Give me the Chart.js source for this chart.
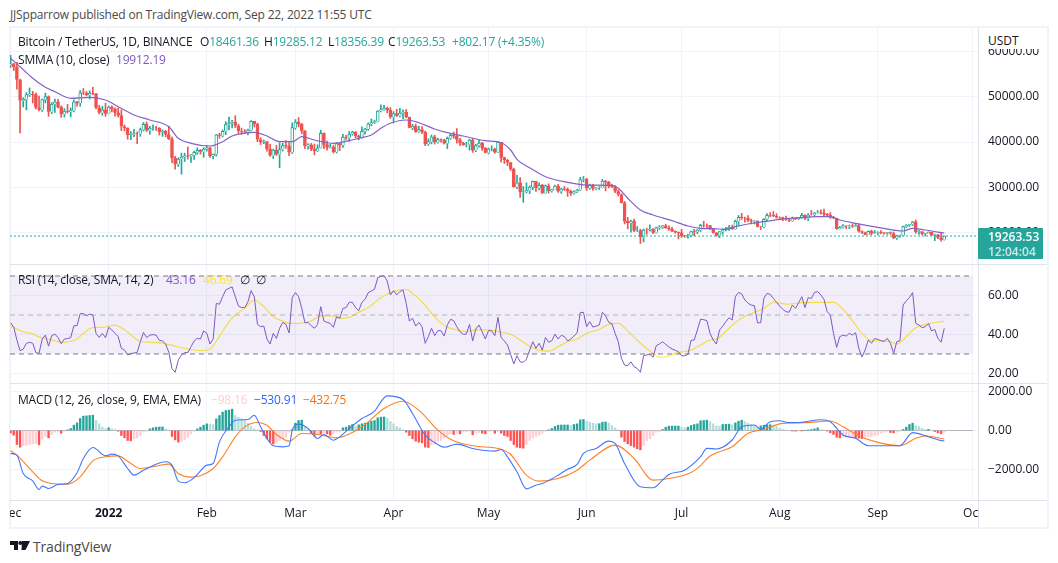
<!DOCTYPE html>
<html>
<head>
<meta charset="utf-8">
<script src="https://cdn.jsdelivr.net/npm/chart.js@4/dist/chart.umd.min.js"></script>
<style>
  body {margin:0; background:#fff; font-family:"Open Sans",sans-serif; font-size:12px; color:#131722;}
  .abs {position:absolute; white-space:nowrap;}
  .tx {letter-spacing:-0.18px;}
  canvas {position:absolute; left:10px;}
  .sep {position:absolute; background:#e0e3eb; height:1px; left:10px; width:1037px; z-index:2;}
</style>
</head>
<body>
<div class="abs tx" style="left:10px;top:6px;color:#4a4a4a;">JJSpparrow published on TradingView.com, Sep 22, 2022 11:55 UTC</div>
<div class="abs" style="left:9px;top:26px;width:1040px;height:503px;border:2px solid #f0f3fa;box-sizing:border-box;"></div>

<canvas id="priceChart" width="1037" height="236" style="top:28px"></canvas>
<canvas id="rsiChart" width="1037" height="118" style="top:265px"></canvas>
<canvas id="macdChart" width="1037" height="142" style="top:384px"></canvas>

<div class="sep" style="top:264px"></div>
<div class="sep" style="top:383px"></div>
<div class="sep" style="top:500px"></div>
<div class="abs" style="left:978px;top:501px;width:1px;height:26px;background:#e0e3eb;z-index:3"></div>
<div class="abs" style="left:979px;top:501px;width:68px;height:25px;background:#fff;z-index:2"></div>

<div class="abs" style="left:979px;top:28px;width:68px;height:21px;background:#fff;z-index:2;padding:4px 0 0 9px;box-sizing:border-box;">USDT</div>
<div class="abs" style="left:978px;top:228px;width:65px;height:31px;background:#26a69a;color:#fff;z-index:3;border-radius:1px;padding:1px 0 0 10px;box-sizing:border-box;line-height:15px;font-weight:600;">19263.53<br><span style="opacity:.75">12:04:04</span></div>

<div class="abs tx" style="left:18px;top:33px;z-index:4;">Bitcoin / TetherUS, 1D, BINANCE</div>
<div class="abs tx" style="left:200px;top:33px;z-index:4;">O<span style="color:#26a69a">18461.36</span></div>
<div class="abs tx" style="left:264px;top:33px;z-index:4;">H<span style="color:#26a69a">19285.12</span></div>
<div class="abs tx" style="left:328px;top:33px;z-index:4;">L<span style="color:#26a69a">18356.39</span></div>
<div class="abs tx" style="left:388px;top:33px;z-index:4;">C<span style="color:#26a69a">19263.53</span></div>
<div class="abs tx" style="left:452px;top:33px;z-index:4;color:#26a69a">+802.17 (+4.35%)</div>
<div class="abs tx" style="left:18px;top:51px;z-index:4;">SMMA (10, close)</div>
<div class="abs tx" style="left:116px;top:51px;z-index:4;color:#7e57c2">19912.19</div>

<div class="abs tx" style="left:18px;top:271px;z-index:4;">RSI (14, close, SMA, 14, 2)</div>
<div class="abs tx" style="left:166px;top:271px;z-index:4;color:#7e57c2">43.16</div>
<div class="abs tx" style="left:203px;top:271px;z-index:4;color:#ffe620">46.69</div>
<div class="abs" style="left:240px;top:271px;z-index:4;">∅</div>
<div class="abs" style="left:256px;top:271px;z-index:4;">∅</div>

<div class="abs tx" style="left:18px;top:391px;z-index:4;">MACD (12, 26, close, 9, EMA, EMA)</div>
<div class="abs tx" style="left:211px;top:391px;z-index:4;color:#ffcdd2">−98.16</div>
<div class="abs tx" style="left:254px;top:391px;z-index:4;color:#2962ff">−530.91</div>
<div class="abs tx" style="left:303px;top:391px;z-index:4;color:#ff6d00">−432.75</div>

<svg class="abs" style="left:10px;top:541px" width="20" height="9" viewBox="0 0 20 9"><path fill="#131722" d="M0 0H8V9H4V4H0ZM12 0H20L15.5 9H11.5Z"/><circle cx="10.3" cy="2" r="2" fill="#131722"/></svg>
<div class="abs tx" style="left:33px;top:537px;font-size:14px;color:#4a4a4a;">TradingView</div>

<script>
// day 0 is 1 Dec 2021, one row a day up to 22 Sep 2022
var firstOpen = 56950;
// close, high, low
var candles = [
[57229,59119,56458],[56509,57375,55777],[53727,57600,51680],[49152,53904,42000],[49396,49767,47727],[50441,50900,47100],[50589,51936,50039],[50471,51200,48600],[47545,50797,47320],[47140,50125,46852],
[49389,49485,46751],[50053,50797,48638],[46702,50189,45672],[48343,48700,46290],[48864,49500,46547],[47632,49436,47511],[46131,47995,45456],[46834,47366,45515],[46681,48300,46406],[46915,47537,45558],
[48887,49328,46630],[48588,49000,47920],[50838,51375,47900],[50820,51810,50459],[50399,51156,50180],[50775,51280,49500],[50701,52088,50449],[47543,50704,47313],[46464,48119,46201],[47120,47900,45900],[46216,48548,45678],
[47722,47954,46208],[47286,47990,46654],[46446,47570,45696],[45833,47505,45516],[43431,47070,42500],[43097,43748,42430],[41546,43145,40610],[41678,42300,40501],[41864,42786,41200],[41822,42248,39650],
[42729,43100,41260],[43902,44322,42450],[42560,44458,42311],[43059,43448,41725],[43084,43800,42577],[43071,43475,42581],[42201,43190,41540],[42352,42693,41250],[41660,42575,41138],[40680,43505,40553],
[36445,41100,35440],[35071,36835,34008],[36244,36499,34601],[36660,37550,32917],[36958,37545,35701],[36809,38919,36234],[37160,37234,35507],[37716,38000,36155],[38166,38720,37268],[37881,38360,37351],[38466,38744,36632],
[38694,39265,38000],[36896,38855,36586],[37311,37387,36250],[41574,41688,36900],[41382,41950,40843],[42380,42656,41116],[43840,44500,41645],[44118,45492,42666],[44338,44798,43117],[43565,45821,43188],
[42407,43920,41938],[42244,43079,41688],[42197,42760,41870],[42586,42876,41570],[44575,44751,42427],[43961,44582,43310],[40538,44169,40073],[40000,40959,39450],[40118,40444,39639],[38431,40125,38000],
[37017,39494,36800],[38230,38429,36350],[37250,39249,37036],[38328,39843,34322],[39219,39720,38014],[39116,40300,38600],[37700,39886,37000],[43160,44225,37450],
[44421,44949,42809],[43892,45400,43334],[42454,44102,41832],[39148,42500,38550],[39397,39680,38450],[38420,39693,38087],[37989,39547,37155],[38730,39400,37867],[41941,42594,38656],[39422,42039,38539],
[38730,40236,38223],[38807,39486,38660],[37777,39304,37578],[39671,39887,37578],[39280,39927,38120],[41114,41718,38828],[40917,41478,40500],[41757,42325,40135],[42201,42400,41499],[41262,42300,40911],
[41002,41544,40467],[42364,43361,40875],[42882,43025,41751],[43991,44220,42560],[44313,45094,43579],[44511,44820,44072],[46827,46890,44421],[47122,48189,46663],[47434,48096,46950],[47067,47700,46445],[45510,47600,45200],
[46283,46720,44200],[45811,47213,45620],[46407,47444,45530],[46580,47106,45118],[45497,47200,45353],[43170,45507,43121],[43444,43900,42727],[42252,43970,42107],[42753,43470,42125],[42158,43430,41868],
[39530,42414,39200],[40074,40700,39254],[41147,41561,39588],[39942,41500,39551],[40551,40853,39766],[40378,40709,39991],[39678,40595,39546],[40801,41116,38536],[41494,41760,40571],[41358,42199,40820],
[40480,42976,39751],[39709,40798,39177],[39441,39980,39285],[39450,39934,38929],[40427,40616,38200],[38112,40797,37702],[39235,39474,37881],[39743,40372,38881],[38596,39925,38175],[37630,38795,37578],
[38468,38675,37386],[38469,39167,38052],[37716,38651,37517],[39939,40023,37670],[36549,39845,35571],[36013,36675,35258],[35472,36146,34785],[34039,35510,33713],[30074,34243,30033],[31017,32658,29730],
[28936,32162,27785],[28998,30189,26700],[29285,30999,28751],[30086,30343,28630],[31328,31400,29480],[29874,31328,29087],[30444,31000,29422],[28715,30670,28654],[30319,30545,28670],[29201,30777,28730],
[29445,29600,28947],[30294,30487,29450],[29109,30670,28866],[29655,29827,28669],[29542,30200,29320],[29201,29858,28019],[28629,29407,28202],[29031,29249,28450],[29469,29556,28850],[31727,32222,29299],[31801,32399,31200],
[29805,31986,29300],[30452,30700,29570],[29700,30690,29335],[29865,29950,29450],[29906,30165,29510],[31370,31765,29880],[31125,31550,29219],[30204,31327,29860],[30109,30700,29920],[29091,30400,28850],
[28424,29440,28100],[26574,28550,26560],[22487,26900,21925],[22136,23362,20846],[22583,22800,20111],[20401,22980,20232],[20468,21365,20246],[18970,20780,17622],[20574,20800,17960],[20573,21000,19637],
[20723,21723,20348],[19987,20900,19770],[21110,21233,19890],[21237,21558,20740],[21491,21600,20920],[21038,21868,20950],[20742,21500,20510],[20281,21200,20200],[20123,20400,19848],[19942,20180,18626],
[19279,20750,18975],[19252,19430,18975],[19315,19650,18770],[20236,20350,19040],[20175,20750,19300],[20564,20670,19770],[21624,21840,20250],[21594,22527,21190],[21591,21950,21000],[20862,21600,20650],
[19963,20870,19880],[19328,20050,19230],[20234,20250,18910],[20588,20890,19630],[20830,21200,20380],[21195,21600,20500],[20779,21680,20750],[22485,22780,20760],[23389,23800,21580],[23231,24280,22910],
[23164,23430,22340],[22684,23750,22420],[22451,22990,21930],[22579,22680,21930],[21310,22650,21250],[21254,21350,20700],[22952,23100,21040],[23843,24200,22580],[23804,24440,23500],[23656,24680,23510],[23336,24180,23200],
[23314,23500,22850],[22978,23470,22660],[22846,23640,22680],[22630,23230,22430],[23289,23460,22500],[22961,23350,22920],[23175,23360,22900],[23810,24245,23150],[23149,23930,22880],[23954,24220,22660],
[23934,24920,23880],[24403,24460,23600],[24441,24890,24300],[24305,25050,24100],[24094,25210,23770],[23854,24240,23680],[23342,24450,23170],[23191,23600,23080],[20834,23210,20750],[21140,21380,20760],
[21515,21800,20980],[21399,21530,20890],[21529,21700,20890],[21368,21900,21140],[21559,21820,21320],[20241,21890,20110],[20037,20400,19800],[19555,20140,19520],[20285,20400,19550],[19811,20580,19530],[20050,20490,19790],
[20131,20210,19560],[19951,20440,19750],[19831,20000,19650],[20000,20050,19600],[19796,20180,19640],[18790,20170,18650],[19292,19460,18510],[19319,19460,19000],[21360,21450,19300],[21648,21800,21120],
[21826,21850,21360],[22395,22490,21560],[20173,22790,19860],[20226,20540,19620],[19701,20180,19500],[19803,19880,19320],[20113,20190,19750],[19416,20110,19340],[19537,19690,18232],[18875,19630,18700],
[18461,19950,18125],[19263.53,19285.12,18356.39]
];

// [day, value]
var smma = [[0,58470],[3,56618],[7,54058],[11,52072],[14,51100],[19,49640],[25,49860],[30,49270],[34,47795],[39,45960],[44,44860],[50,43380],[53,40820],[57,39720],[63,39120],[67,40070],[70,41330],[77,42150],[81,41330],[85,40070],[89,40070],[92,41180],[96,40450],[102,39720],[107,40300],
[110,40823],[114,41551],[117,43029],[120,44132],[125,44860],[129,44264],[134,42875],[138,42058],[143,41330],[150,40294],[155,39852],[158,38242],[160,36190],[164,34337],[169,32352],[176,31116],[182,30520],[190,30455],[192,29793],[195,27587],[199,25006],[203,23903],[209,22646],[214,21476],[218,20960],
[222,20881],[226,20748],[229,21322],[233,21918],[238,22425],[243,22954],[249,23307],[255,23528],[259,23528],[262,22800],[267,22072],[274,21190],[282,20373],[285,20969],[289,20594],[295,19912]];

var rsi = [46,43.7,37.2,31.7,32.5,35.5,36,35.5,30.7,30.3,37.7,39.7,34,39.4,40.2,38.4,35.3,37.7,37.9,38.4,44.5,44.5,50.7,50.7,49.6,50.5,50,40.6,38.5,40.6,38.4,
43.7,42.3,40.6,38.9,32.9,32,29.5,30.2,30.5,30.8,36.3,41.1,38.4,39.7,39.9,39.7,37,36.7,35.1,30.8,22.6,20.6,26.9,29.5,30.7,30.8,33.7,36.7,38,37.7,41.8,
40.6,35.1,37.7,56,55.5,59.4,62.8,63.7,64.4,59.4,54.6,53.8,53.8,56.8,62.5,59.4,45.2,44,44.3,37.7,35.1,40.6,38,43.2,46.2,45.2,40.8,58.9,
61.5,59.4,53.4,46,46.2,44.5,43.2,45.2,54.3,46.9,46.2,45.7,43.7,49.1,48.3,53.4,53.8,56.5,56.5,53.8,52.2,56.5,58,61.4,62.3,63.2,69.1,69.8,70.2,67.4,
60.3,62.5,60.3,62,62.8,56,46.9,48.3,44.3,46.2,44,35.5,38.9,43.2,39.4,42,41.9,39.2,44.9,47.8,47.1,44,41.4,40.1,40.2,45.2,36.7,42.8,44.9,41.4,
37.7,42,41.9,39.4,48.8,38.4,36.7,34.6,29.8,24.9,29.1,26,25.7,27.4,32,36.3,32.9,35.5,32,38.5,36,36.8,40.2,37.7,39.6,38.9,36.7,37.7,39.2,40.9,51.2,
51.4,44,46.6,43.8,44.3,44.9,51.4,49.6,46.2,45.5,40.6,36.3,27.8,24.3,24,26,23.5,22.6,20.6,29.1,29.5,29.8,28.3,34.3,35.1,36.3,34.9,33.6,32.6,31.9,
31.2,29.1,29.1,29.8,37,37.2,42.3,47.8,47.6,47.1,40.6,37.2,35.1,42.3,44.3,46.6,48.6,47.4,59.4,61.6,60.8,57.7,56,55.1,54.8,46,46,58.5,61.1,60.6,
58.5,56.5,54.6,52.9,51.7,51.4,55.1,53.4,56.3,59.4,53.8,58.9,58.5,61.6,62,60.3,58,51.7,50,40.6,33.4,38.9,39.7,39.2,40.6,39.7,40.9,32.9,28.5,32,
37.2,35.5,37.9,37.5,36.8,36.5,38,35.5,30.3,36.3,36.8,55.1,57.3,58.9,61.5,45.7,44.9,43.5,44,45.7,41.8,42.6,38,36.1,43.16];

var rsiMa = [[0,44.3],[4,41.4],[7,40.2],[9,38.8],[12,37.7],[16,36],[21,37.7],[23,40.6],[26,43.5],[29,43.7],[33,44.8],[36,42.4],[39,38.5],[41,36.4],[45,36],[48,35.6],[52,34],[57,32.3],[60,31.8],[63,32.6],[66,39],[69,46.6],[71,50],[74,53.4],[77,57.7],[80,54.3],[83,49.1],[86,46.9],[88,45.7],[91,45.7],[95,46.9],[98,49.6],[102,49.6],[104,48.3],[107,48.8],
[110,51.4],[113,53.8],[116,57.7],[119,60.8],[122,62.5],[125,63.2],[127,61.1],[130,56.8],[133,50.9],[135,47.4],[138,43.7],[141,42.4],[144,41.5],[147,42.4],[151,42.4],[154,41.5],[158,40.1],[161,37.2],[164,34],[167,31.9],[170,31.5],[173,33.7],[176,36.3],[179,37.7],[182,40.6],[186,42.6],[189,45.2],[192,45.7],[195,41.8],[199,35.5],[203,30.3],[205,28.3],[207,28.6],[211,30.7],[215,32],[218,34.6],
[221,37.2],[223,37.7],[227,43.2],[230,47.4],[234,50.8],[238,53.4],[241,56.5],[246,55.5],[250,56.3],[255,56.5],[260,56.5],[265,49.1],[269,40.6],[272,36.8],[277,36.7],[280,35.1],[284,40.6],[286,43.5],[290,45.4],[293,46.4],[295,46.69]];

var macdLine = [[0,-1179],[2,-1265],[4,-2205],[7,-2581],[9,-3025],[10,-2854],[12,-2974],[15,-2769],[18,-2717],[21,-2170],[23,-1436],[26,-872],[30,-1299],[32,-1213],[34,-1299],[37,-1948],[39,-2290],[42,-2034],[46,-1726],[49,-1606],[51,-1777],[53,-2598],[55,-2683],[57,-2546],[59,-2256],[62,-1777],[64,-1692],[66,-581],[69,188],[71,530],[75,564],[77,786],[79,188],[81,-410],[83,-786],[86,-837],[88,-786],[89,17],[91,325],[94,103],[97,-410],[99,-205],[102,-496],[104,-325],[107,100],
[111,615],[115,991],[117,1470],[119,1777],[124,1589],[127,872],[131,-239],[134,-615],[137,-855],[141,-701],[146,-923],[153,-1060],[155,-974],[157,-1350],[160,-2119],[163,-2991],[166,-2803],[168,-2717],[173,-2290],[176,-1982],[179,-1743],[181,-1179],[185,-923],[189,-547],[191,-666],[194,-1692],[199,-2888],[203,-2939],[206,-2546],[208,-2256],[213,-2034],[218,-1342],
[220,-914],[223,-948],[228,-487],[231,197],[235,282],[237,60],[240,453],[243,504],[246,402],[250,419],[256,555],[259,453],[263,-231],[267,-402],[271,-778],[276,-778],[281,-778],[285,-111],[290,-316],[294,-521],[295,-530.91]];

var macdSignal = [[0,-1042],[2,-1265],[7,-2119],[10,-2581],[13,-2717],[18,-2751],[22,-2375],[26,-1555],[30,-1350],[34,-1299],[37,-1572],[41,-1948],[46,-1829],[50,-1726],[53,-2204],[57,-2393],[60,-2324],[64,-1948],[67,-1350],[71,-325],[74,188],[78,410],[81,273],[84,-205],[88,-547],[92,-154],[97,-205],[103,-376],[107,-180],
[112,308],[118,1128],[124,1504],[129,1042],[135,17],[139,-444],[146,-786],[155,-957],[158,-1230],[163,-2290],[167,-2598],[173,-2461],[179,-2034],[183,-1521],[191,-752],[197,-1436],[203,-2546],[208,-2461],[215,-2153],[218,-1800],
[221,-1307],[228,-829],[233,-145],[238,60],[244,367],[251,402],[259,487],[263,197],[269,-350],[274,-607],[281,-778],[286,-402],[289,-282],[295,-432.75]];

var macdHist = [-137,-239,-718,-855,-786,-752,-718,-684,-667,-735,-444,-308,-376,-205,-85,-51,-137,-34,34,103,273,393,615,735,752,769,786,513,342,171,85,137,85,51,-34,-256,-376,-513,-530,-427,-376,-256,-85,-34,85,137,171,179,181,85,17,-308,-478,-598,-564,-461,-342,-171,-34,85,171,273,342,325,308,598,769,940,1025,1042,1094,769,684,598,513,376,205,85,34,-51,-256,-427,-598,-684,-649,-513,-427,-342,-85,51,376,513,530,171,51,-137,-256,-171,-188,-137,-171,-239,-171,-85,-51,137,171,256,
308,239,291,342,376,427,478,513,649,684,692,632,461,342,205,137,34,-85,-256,-427,-547,-598,-632,-855,-872,-735,-684,-564,-513,-376,-256,-171,-205,-137,-171,-68,-51,-34,-222,-120,-103,-137,-171,-51,-34,-137,-51,-137,-256,-308,-513,-718,-855,-889,-906,-718,-513,-376,-308,-239,-137,-34,34,103,205,273,282,284,285,256,308,342,547,564,478,427,376,342,350,427,436,376,256,137,34,-342,-564,-684,-769,-855,-940,-991,-769,-513,-427,-256,-85,-51,51,171,222,226,229,231,171,137,171,256,308,342,
496,513,530,461,342,239,222,308,316,325,291,393,478,530,461,376,308,239,154,239,273,291,299,273,205,120,51,17,0,-17,-34,-17,-17,0,17,51,85,137,51,17,-17,-120,-205,-342,-376,-342,-325,-308,-291,-376,-393,-410,-342,-308,-291,-256,-205,-137,-85,-51,-103,-120,-85,-34,51,171,308,376,256,205,120,51,60,0,-51,-120,-171,-98.16];

var UP = "#26a69a", DOWN = "#ef5350", GRID = "#f0f3fa";
var FONT = "'Open Sans',sans-serif";
var monthTicks = {0:"Dec",31:"2022",62:"Feb",90:"Mar",121:"Apr",151:"May",182:"Jun",212:"Jul",243:"Aug",274:"Sep",304:"Oct"};
var XMIN = -0.18, XMAX = 305.66;

var bodies = [], wicks = [], bodyFill = [], bodyLine = [];
candles.forEach(function(c, i) {
  var open = i == 0 ? firstOpen : candles[i-1][0];
  bodies.push({x:i, y:[open, c[0]]});
  wicks.push({x:i, y:[c[2], c[1]]});
  bodyFill.push(c[0] >= open ? "#ffffff" : DOWN);
  bodyLine.push(c[0] >= open ? UP : DOWN);
});

function pts(list) { return list.map(function(p) { return {x:p[0], y:p[1]}; }); }
function money(v) { return v.toFixed(2).replace("-", "\u2212"); }

function xAxis(showLabels) {
  return {
    type: "linear", min: XMIN, max: XMAX, offset: false,
    afterBuildTicks: function(s) { s.ticks = Object.keys(monthTicks).map(function(k) { return {value:+k}; }); },
    grid: {color: GRID, offset: false, drawTicks: false},
    border: {display: false},
    afterFit: function(s) { s.height = showLabels ? 26 : 0; s.paddingLeft = 0; s.paddingRight = 0; },
    ticks: {
      display: showLabels, autoSkip: false, maxRotation: 0, padding: 6, color: "#131722",
      font: function(ctx) { return {family: FONT, size: 12, weight: ctx.tick && ctx.tick.value == 31 ? "bold" : "normal"}; },
      callback: function(v) { return monthTicks[v]; }
    }
  };
}

function yAxis(min, max, ticks) {
  return {
    position: "right", min: min, max: max,
    afterBuildTicks: function(s) { s.ticks = ticks.map(function(v) { return {value:v}; }); },
    afterFit: function(s) { s.width = 69; s.paddingTop = 0; s.paddingBottom = 0; },
    grid: {color: GRID, drawTicks: false},
    border: {color: "#e0e3eb"},
    ticks: {padding: 10, color: "#131722", font: {family: FONT, size: 12}, callback: money}
  };
}

var base = {
  responsive: false, animation: false,
  layout: {padding: 0},
  plugins: {legend: {display: false}, tooltip: {enabled: false}, title: {display: false}},
  elements: {point: {radius: 0}}
};
function opts(x, y) { return Object.assign({}, base, {scales: {x: x, y: y}}); }

new Chart("priceChart", {
  type: "bar",
  data: {
    datasets: [
      {data: wicks, backgroundColor: bodyLine, barThickness: 1, grouped: false, order: 3},
      {data: bodies, backgroundColor: bodyFill, borderColor: bodyLine, borderWidth: 1, barThickness: 3, grouped: false, order: 2},
      {type: "line", data: pts(smma), borderColor: "#8560c8", borderWidth: 1.2, cubicInterpolationMode: "monotone", order: 1},
      {type: "line", data: [{x:XMIN, y:19263.53}, {x:XMAX, y:19263.53}], borderColor: UP, borderWidth: 1, borderDash: [2,2], order: 1}
    ]
  },
  options: opts(xAxis(false), yAxis(13093, 65155, [60000,50000,40000,30000,20000]))
});

new Chart("rsiChart", {
  type: "line",
  data: {
    datasets: [
      {data: [{x:XMIN, y:70}, {x:304, y:70}], borderColor: "#787b86", borderWidth: 1, borderDash: [5,4], fill: {target: {value: 30}}, backgroundColor: "rgba(126,87,194,0.1)"},
      {data: [{x:XMIN, y:50}, {x:304, y:50}], borderColor: "rgba(120,123,134,0.5)", borderWidth: 1, borderDash: [5,4]},
      {data: [{x:XMIN, y:30}, {x:304, y:30}], borderColor: "#787b86", borderWidth: 1, borderDash: [5,4]},
      {data: rsi.map(function(v, i) { return {x:i, y:v}; }), borderColor: "#7e57c2", borderWidth: 1},
      {data: pts(rsiMa), borderColor: "#ffeb3b", borderWidth: 1.2, cubicInterpolationMode: "monotone"}
    ]
  },
  options: opts(xAxis(false), yAxis(15.13, 75.64, [60,40,20]))
});

new Chart("macdChart", {
  type: "bar",
  data: {
    datasets: [
      {type: "line", data: [{x:XMIN, y:0}, {x:304, y:0}], borderColor: "rgba(120,123,134,0.5)", borderWidth: 1, order: 3},
      {
        data: macdHist.map(function(v, i) { return {x:i, y:v}; }),
        backgroundColor: macdHist.map(function(v, i) {
          var prev = i ? macdHist[i-1] : 0;
          if (v >= 0) return v >= prev ? "#26a69a" : "#b2dfdb";
          return v <= prev ? "#ff5252" : "#ffcdd2";
        }),
        barThickness: 1.7, grouped: false, order: 2
      },
      {type: "line", data: pts(macdLine), borderColor: "#4476fa", borderWidth: 1.1, cubicInterpolationMode: "monotone", order: 1},
      {type: "line", data: pts(macdSignal), borderColor: "#ff8026", borderWidth: 1.1, cubicInterpolationMode: "monotone", order: 1}
    ]
  },
  options: opts(xAxis(true), yAxis(-3564, 2385, [2000,0,-2000]))
});
</script>
</body>
</html>
